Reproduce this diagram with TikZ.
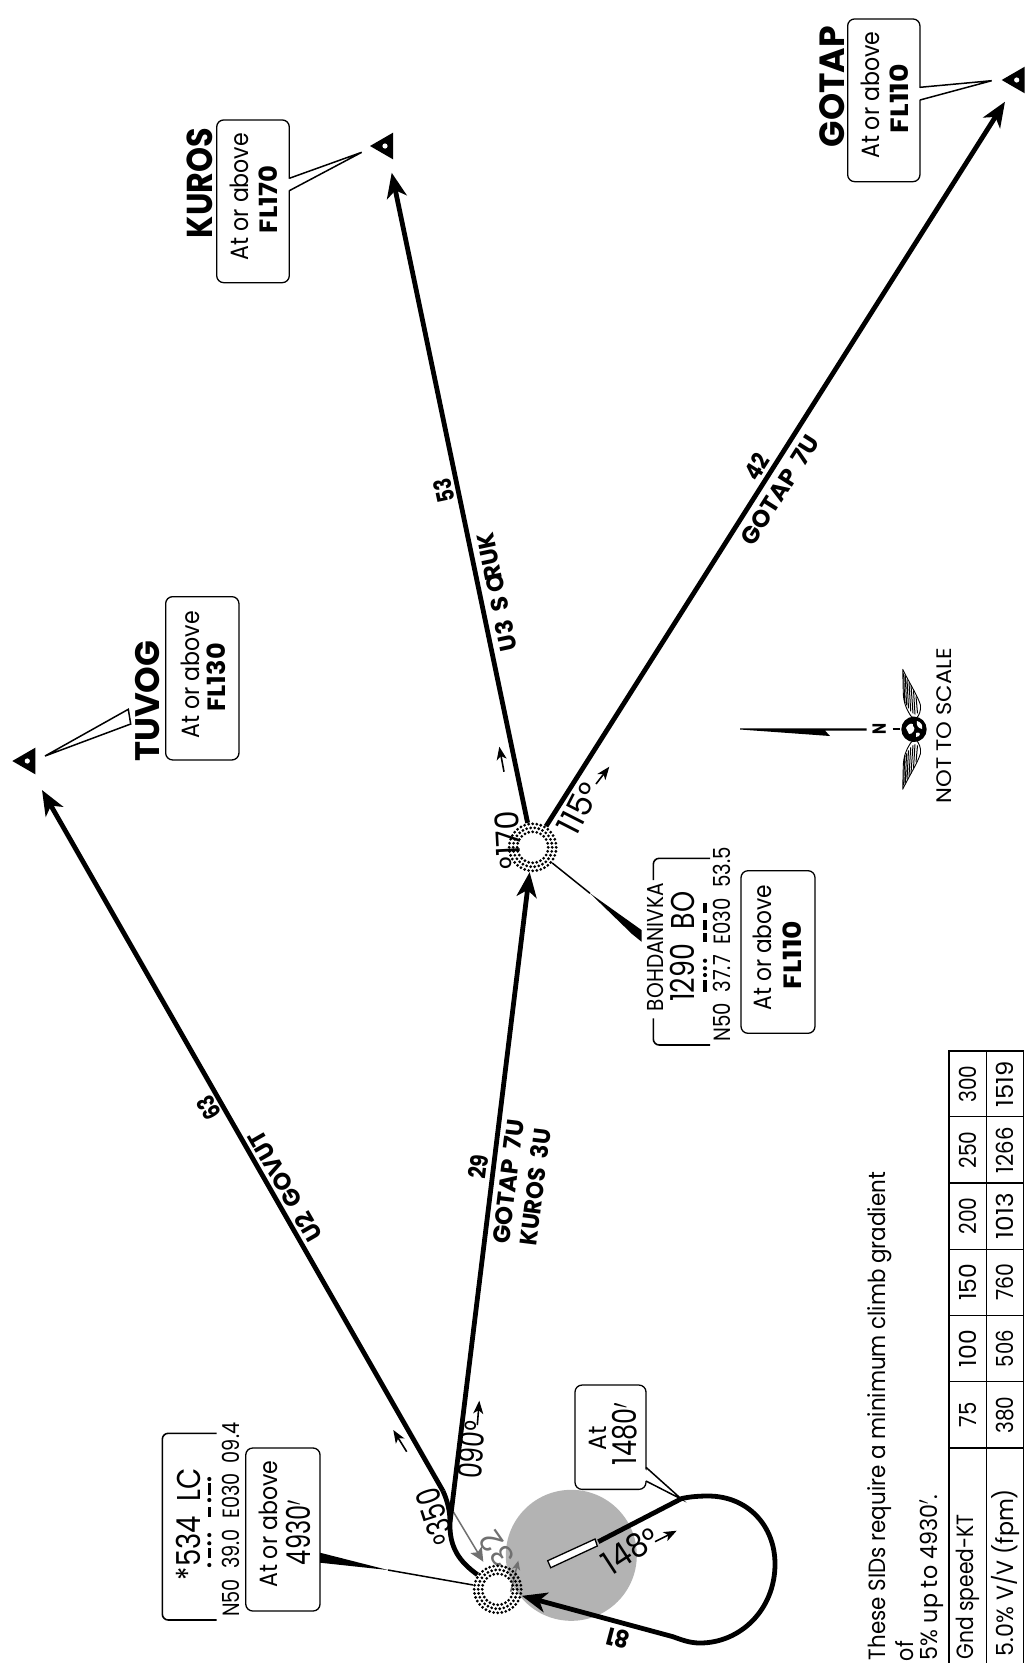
\documentclass[tikz,border=0pt]{standalone}
\usepackage{fontspec}
\setmainfont{Poppins}
\usetikzlibrary{arrows.meta,calc}
\definecolor{runwaygray}{HTML}{B3B3B3}
\definecolor{dirgray}{HTML}{707070}
\tikzset{
  x=1pt,y=-1pt,
  lbl/.style={inner sep=0pt,outer sep=0pt,anchor=center},
  track/.style={line width=4.8pt,line join=round},
  trackarrow/.style={track,-{Stealth[length=25pt,width=20pt,inset=7pt]}},
  dirarrow/.style={line width=1.6pt,-{Stealth[length=13pt,width=10pt,inset=3.5pt]}},
  cbox/.style={draw=black,line width=1.3pt,rounded corners=7pt,fill=white,inner sep=0pt,outer sep=0pt,rectangle},
  fixnode/.style={circle,minimum size=50pt,inner sep=0pt,outer sep=0pt},
  bracket/.style={line width=1.6pt,rounded corners=6pt},
  leader/.style={line width=1.5pt},
  morse/.style={line width=3.3pt}
}
\newcommand\lab[7]{\node[lbl,rotate=#4] (#1) at (#2,#3) {\fontsize{#5}{#5}\selectfont\resizebox{#6pt}{\height}{#7}};}
\newcommand\lowdeg{\smash{\raisebox{-.07em}{°}}}
\newcommand\fixring[1]{%
  \foreach \r/\n in {15.5/24,19.5/30,23.5/36}{
    \foreach \i in {1,...,\n}{
      \fill (#1.center) ++({\i*360/\n}:\r) circle (1.55);
    }
  }}
\newcommand\wpt[3]{% x of apex, y, name
  \fill[black] (#1,#2) -- ++(23,-13.3) -- ++(0,26.6) -- cycle;
  \fill[white] ($(#1,#2)+(15,0)$) circle (2.6);
  \coordinate (#3) at (#1,#2);}
\begin{document}
\begin{tikzpicture}
\useasboundingbox (0,0) rectangle (1032,1663);
\fill[white] (0,0) rectangle (1032,1663);

% runway protection circle
\fill[runwaygray] (571.3,1555.3) circle (65.5);

% fixes
\node[fixnode] (lc) at (497.7,1589.3) {};
\node[fixnode] (bo) at (532.7,847.3) {};
\fill[white] (lc.center) circle (14);
\fill[white] (bo.center) circle (14);

% gray outbound course
\coordinate (gs) at (453.3,1511.7);
\coordinate (ge) at (483.3,1561.7);
\draw[line width=1.5pt,dirgray,-{Stealth[length=14pt,width=13pt,inset=3pt]}] (gs) -- (ge);
\coordinate (g2s) at (510.7,1591.7);
\coordinate (g2e) at (518.3,1560.7);
\draw[line width=1.5pt,dirgray,-{Stealth[length=9pt,width=8pt,inset=2pt]}] (g2s) -- (g2e);
\lab{gray32}{496.7}{1549}{125}{30}{36}{\color{dirgray}32}

% waypoints
\wpt{370}{146}{kurospt}
\wpt{1001.7}{80}{gotappt}
\wpt{12.3}{761}{tuvogpt}

% tracks
\coordinate (merge) at (450,1522);
\coordinate (bend) at (443,1491);
\coordinate (tuvogtip) at (42,790);
\coordinate (kurostip) at (391.7,172.7);
\coordinate (gotaptip) at (1005,101.7);
\draw[track] (lc) .. controls (460,1562) and (449,1548) .. (merge);
\draw[trackarrow] (merge) -- (bo);
\draw[track] (merge) .. controls (450,1510) and (447,1500) .. (bend);
\draw[trackarrow] (bend) -- (tuvogtip);
\draw[trackarrow] (bo) -- (kurostip);
\draw[trackarrow] (bo) -- (gotaptip);

% runway and teardrop
\coordinate (rwyend) at (598.3,1541.7);
\draw[track,-{Stealth[length=25pt,width=20pt,inset=7pt]}] (rwyend) -- (681.7,1498.5)
  .. controls (691,1496.5) and (700,1496) .. (708,1496)
  .. controls (748,1496) and (775,1526) .. (775,1564)
  .. controls (775,1610) and (740,1643) .. (700,1643)
  .. controls (690,1643) and (682,1640) .. (673,1636.7) -- (lc);
\draw[fill=white,line width=1.3pt] (547.7,1560.7) -- (595,1539) -- (597.3,1546) -- (550.7,1567.7) -- cycle;

% fix dot rings
\fixring{lc}
\fixring{bo}

% direction arrows
\coordinate (d1s) at (406.7,1451.7); \coordinate (d1e) at (393.3,1430);
\coordinate (d2s) at (477.3,1425);   \coordinate (d2e) at (479.3,1400.7);
\coordinate (d3s) at (504,771.7);    \coordinate (d3e) at (499.3,746.7);
\coordinate (d4s) at (596,784);      \coordinate (d4e) at (609.3,766.7);
\coordinate (d5s) at (655,1541.7);   \coordinate (d5e) at (676.7,1530.7);
\foreach \k in {1,...,5}{\draw[dirarrow] (d\k s) -- (d\k e);}

% course labels
\lab{c350}{435}{1516.7}{108}{33}{57}{\lowdeg 350}
\lab{c090}{471.5}{1450}{85}{33}{58}{090\lowdeg}
\lab{c170}{508}{840}{93}{33}{58}{\lowdeg 170}
\lab{c115}{578.3}{808.3}{63}{33}{54}{115\lowdeg}
\lab{c148}{630}{1550}{33}{33}{60}{148\lowdeg}
\lab{d81}{617.7}{1638.3}{165}{24}{23}{\bfseries 81}

% track labels
\lab{d63}{209}{1108}{120}{24}{24}{\bfseries 63}
\lab{l1}{285}{1186.7}{120}{24}{124}{\bfseries U2\ \ GOVUT}
\lab{d29}{478.3}{1166.7}{83}{24}{24}{\bfseries 29}
\lab{l2}{508.3}{1181.7}{83}{24}{125}{\bfseries GOTAP\ \ 7U}
\lab{l3}{535}{1187}{83}{24}{118}{\bfseries KUROS\ \ 3U}
\lab{d53}{444.3}{491}{102}{24}{24}{\bfseries 53}
\lab{l4}{496.7}{592.3}{102}{24}{120}{\bfseries U3\ \ S\ O\kern-.28em RUK}
\lab{d42}{756.7}{466.7}{57.5}{24}{26}{\bfseries 42}
\lab{l5}{780}{490}{57.5}{24}{125}{\bfseries GOTAP\ \ 7U}

% GOTAP
\node[cbox,minimum width=72.3pt,minimum height=162.7pt] (gotapbox) at (883.8,100.3) {};
\coordinate (ga) at (920,87.3); \coordinate (gb) at (920,100); \coordinate (gt) at (991.7,80.7);
\fill[white] (ga) ++(-2,1) -- (gt) -- (gb) -- ++(-2,-1) -- cycle;
\draw[leader] (ga) -- (gt) -- (gb);
\lab{t1}{870.7}{95.3}{90}{25}{127}{At or above}
\lab{t2}{899}{98.5}{90}{25}{69}{\bfseries FL110}
\lab{n1}{831.7}{86.5}{90}{35}{121}{\bfseries GOTAP}

% KUROS
\node[cbox,minimum width=72.6pt,minimum height=162.7pt] (kurosbox) at (253,201.3) {};
\coordinate (ka) at (289.3,178.3); \coordinate (kb) at (289.3,190.7); \coordinate (kt) at (361.7,152.3);
\fill[white] (ka) ++(-2,1) -- (kt) -- (kb) -- ++(-2,-1) -- cycle;
\draw[leader] (ka) -- (kt) -- (kb);
\lab{t3}{239.3}{196.5}{90}{25}{127}{At or above}
\lab{t4}{267.7}{199.5}{90}{25}{67}{\bfseries FL170}
\lab{n2}{200}{183}{90}{36}{110}{\bfseries KUROS}

% TUVOG
\node[cbox,minimum width=73.3pt,minimum height=163.3pt] (tuvogbox) at (202.3,678.3) {};
\draw[leader,line join=miter] (45,756) -- (128.3,709.3) -- (130.7,724) -- cycle;
\lab{t5}{190}{674.8}{90}{25}{127}{At or above}
\lab{t6}{216.7}{677.3}{90}{25}{68}{\bfseries FL130}
\lab{n3}{148}{701.2}{90}{34}{121}{\bfseries TUVOG}

% LC info
\draw[bracket] (216.7,1433.3) -- (162.3,1433.3) -- (162.3,1620) -- (216.7,1620);
\lab{t7}{188}{1524}{90}{33}{112}{*534\ \ LC}
\foreach \y in {1565,1543.3,1535,1500,1479}{\fill (209.3,\y) circle (2.1);}
\foreach \a/\b in {1558.3/1548.3,1516.7/1506.7,1495/1483.3}{\draw[morse] (209.3,\a) -- (209.3,\b);}
\lab{t8}{230.7}{1519.7}{90}{23.5}{194}{N50\ \ 39.0\ \ E030\ \ 09.4}
\node[cbox,minimum width=74.3pt,minimum height=163pt] (lcbox) at (282.9,1529.5) {};
\lab{t9}{268.3}{1524.3}{90}{25}{127}{At or above}
\lab{t10}{298.3}{1532.5}{90}{33}{65}{4930$'$}
\coordinate (lcw) at (388,1570);
\fill (lcbox.east |- 0,1552.7) -- (lcw) -- (lcbox.east |- 0,1562.7) -- cycle;
\draw[leader] (lcw) -- (lc);

% BOHDANIVKA info
\draw[bracket] (710,858.3) -- (653.3,858.3) -- (653.3,880);
\draw[bracket] (653.3,1018.3) -- (653.3,1045) -- (710,1045);
\lab{t11}{655}{947}{90}{23}{128}{BOHDANIVKA}
\lab{t12}{682.7}{946.7}{90}{33}{110}{1290\ \ BO}
\foreach \y in {975,968.3,960.7}{\fill (705,\y) circle (2.1);}
\foreach \a/\b in {991.7/980,941.7/933,930/920,913/903}{\draw[morse] (705,\a) -- (705,\b);}
\lab{t13}{722.3}{944.3}{90}{23.5}{194.7}{N50\ \ 37.7\ \ E030\ \ 53.5}
\node[cbox,minimum width=74pt,minimum height=162.6pt] (bobox) at (778,952) {};
\lab{t14}{762.7}{947.5}{90}{25}{125}{At or above}
\lab{t15}{792.3}{955}{90}{25}{68.6}{\bfseries FL110}
\coordinate (bow) at (590,893.3);
\draw[leader] (bo) -- (bow);
\fill (bow) -- (641.5,930) -- (641.5,941.7) -- (632,934) -- cycle;

% At 1480
\node[cbox,minimum width=71pt,minimum height=104.3pt] (atbox) at (610.5,1437.2) {};
\coordinate (aa) at (646,1467.3); \coordinate (ab) at (646,1481); \coordinate (at) at (681.7,1499.3);
\fill[white] (aa) ++(-2,1) -- (at) -- (ab) -- ++(-2,-1) -- cycle;
\draw[leader] (aa) -- (at) -- (ab);
\lab{t16}{597.7}{1438}{90}{25}{24}{At}
\lab{t17}{625}{1434}{90}{33}{62}{1480$'$}

% north arrow
\fill (740,728.3) -- (866.7,728.3) -- (866.7,730.5) -- (825,730.5) -- (830,736) -- (740,729.5) -- cycle;
\lab{north}{879.3}{729}{90}{19}{11}{\bfseries N}
\coordinate (ns) at (892.7,729); \coordinate (ne) at (900,729);
\draw[line width=2pt] (ns) -- (ne);
\foreach \s in {1,-1}{
  \begin{scope}[shift={(0,729.3)},yscale=\s]
    \draw[line width=.9pt,fill=white,line join=round] (902.7,-60) .. controls (910,-45) and (918,-33) .. (920.5,-24)
      .. controls (921,-18) and (919,-14) .. (916.5,-11) -- (911.5,-12.5)
      .. controls (906,-20) and (903.5,-28) .. (903.3,-36) -- cycle;
    \draw[line width=1pt] (903.6,-56) -- (904.8,-26) (905.2,-54) -- (906.6,-24) (907,-50) -- (908.5,-21)
      (909,-47) -- (910.7,-18) (911,-44) -- (913,-16) (913.5,-39) -- (915,-15) (916,-33) -- (917.5,-16);
  \end{scope}
}
\fill (914,729.3) circle (12.7);
\fill[white] (906,728) .. controls (909,722) and (914,723) .. (913,726) .. controls (917,728) and (912,735) .. (909,734) -- cycle;
\fill[white] (917,721) .. controls (921,722) and (923,725) .. (922,729) .. controls (918,728) and (916,725) .. (917,721) -- cycle;
\fill[white] (916,733) .. controls (919,732) and (921,733) .. (919,736) -- (916,737) -- cycle;
\lab{scale}{944}{725.8}{90}{21}{155}{NOT TO SCALE}

% notes
\lab{n4}{879.3}{1416}{90}{23.5}{488}{These SIDs require a minimum climb gradient}
\lab{n5}{905}{1651}{90}{23.5}{20}{of}
\lab{n6}{931.7}{1577.5}{90}{23.5}{165}{5\% up to 4930$'$.}

% table
\draw[line width=1.2pt] (949,1663) -- (949,1051) -- (1023.3,1051) -- (1023.3,1663);
\draw[line width=1.2pt] (986.7,1051) -- (986.7,1663);
\foreach \y in {1116.7,1183,1249.4,1315.3,1381.7,1448}{\draw[line width=1.2pt] (949,\y) -- (1023.3,\y);}
\lab{a1}{968}{1084}{90}{23.5}{37}{300}
\lab{a2}{968}{1150}{90}{23.5}{37}{250}
\lab{a3}{968}{1216}{90}{23.5}{37}{200}
\lab{a4}{968}{1282}{90}{23.5}{37}{150}
\lab{a5}{968}{1348.5}{90}{23.5}{37}{100}
\lab{a6}{968}{1415}{90}{23.5}{25}{75}
\lab{a7}{968}{1587}{90}{23.5}{145}{Gnd speed-KT}
\lab{b1}{1005}{1084}{90}{23.5}{46}{1519}
\lab{b2}{1005}{1150}{90}{23.5}{46}{1266}
\lab{b3}{1005}{1216}{90}{23.5}{46}{1013}
\lab{b4}{1005}{1282}{90}{23.5}{37}{760}
\lab{b5}{1005}{1348.5}{90}{23.5}{37}{506}
\lab{b6}{1005}{1415}{90}{23.5}{37}{380}
\lab{b7}{1005}{1572.5}{90}{23.5}{167}{5.0\% V/V (fpm)}
\end{tikzpicture}
\end{document}
